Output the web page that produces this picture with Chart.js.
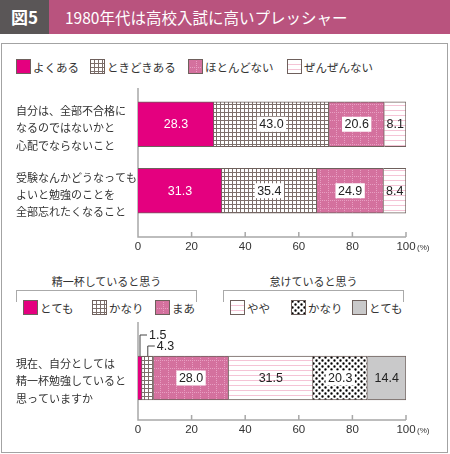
<!DOCTYPE html>
<html lang="ja">
<head>
<meta charset="utf-8">
<script src="https://cdn.jsdelivr.net/npm/chart.js@4.4.1/dist/chart.umd.min.js"></script>
<style>
  body { margin: 0; width: 450px; height: 454px; background: #fff; position: relative; overflow: hidden;
         font-family: "Noto Sans CJK JP", sans-serif; color: #333; }
  .abs { position: absolute; }
  #headNo { left: 0; top: 0; width: 49px; height: 34px; background: #5a5657; color: #fff;
            font: bold 17px "Noto Sans CJK JP"; line-height: 34px; text-align: center; }
  #headTitle { left: 49px; top: 0; width: 401px; height: 34px; background: #b9537e; color: #fff;
               font: 15.5px "Noto Sans CJK JP"; line-height: 34px; padding-left: 16px; box-sizing: border-box; }
  #frame { left: 1px; top: 43px; width: 447px; height: 410px; border: 1.5px solid #a3a3a3; box-sizing: border-box; }
  .item { display: flex; align-items: center; height: 15px; font-size: 11.5px; white-space: nowrap; }
  .item canvas { margin-right: 2px; }
  .group { font-size: 11px; text-align: center; width: 181px; }
  .bracket { border: 1.5px solid #aaa; border-bottom: none; height: 12px; box-sizing: border-box; width: 181px; }
  canvas.chart { position: absolute; left: 0; }
</style>
</head>
<body>
<div class="abs" id="headNo">図5</div>
<div class="abs" id="headTitle">1980年代は高校入試に高いプレッシャー</div>
<div class="abs" id="frame"></div>

<div class="abs group" style="left:16px; top:273px;">精一杯していると思う</div>
<div class="abs group" style="left:223px; top:273px;">怠けていると思う</div>
<div class="abs bracket" style="left:16px; top:290px;"></div>
<div class="abs bracket" style="left:223px; top:290px;"></div>

<div id="legends"></div>

<canvas class="chart" id="topChart" width="450" height="180" style="top:80px"></canvas>
<canvas class="chart" id="bottomChart" width="450" height="125" style="top:320px"></canvas>

<script>
// values (%)
const topCategories = [
  ["自分は、全部不合格に", "なるのではないかと", "心配でならないこと"],
  ["受験なんかどうなっても", "よいと勉強のことを", "全部忘れたくなること"],
];
const topSeriesNames = ["よくある", "ときどきある", "ほとんどない", "ぜんぜんない"];
const yokuAru = [28.3, 31.3];
const tokidokiAru = [43.0, 35.4];
const hotondoNai = [20.6, 24.9];
const zenzenNai = [8.1, 8.4];

const bottomCategories = [["現在、自分としては", "精一杯勉強していると", "思っていますか"]];
const bottomSeriesNames = ["とても", "かなり", "まあ", "やや", "かなり", "とても"];
const seiippaiTotemo = [1.5];
const seiippaiKanari = [4.3];
const seiippaiMaa = [28.0];
const namakeYaya = [31.5];
const namakeKanari = [20.3];
const namakeTotemo = [14.4];

const xTicks = [0, 20, 40, 60, 80, 100];

// styles
const topFills = ["solid", "grid", "pinkgrid", "lines"];
const topLabelStyles = ["light", "box", "box", "plain"];
const bottomFills = ["solid", "grid", "pinkgrid", "lines", "dots", "gray"];
const bottomLabelStyles = ["callout", "callout", "box", "plain", "box", "plain"];
const topLegendX = [16, 90, 188, 287];
const bottomLegendX = [23, 92, 155, 230, 291, 352];
const edge = "#6e605c";
const textColor = "#333";
const numFont = '"Liberation Sans", Arial, sans-serif';

function makePattern(kind) {
  if (kind === "solid") return "#e4007f";
  if (kind === "gray") return "#c9c9ca";
  const c = document.createElement("canvas");
  const g = c.getContext("2d");
  if (kind === "grid") {
    c.width = 4; c.height = 4;
    g.fillStyle = "#fff"; g.fillRect(0, 0, 4, 4);
    g.fillStyle = "#7d6f6b"; g.fillRect(0, 0, 4, 1); g.fillRect(0, 0, 1, 4);
  } else if (kind === "pinkgrid") {
    c.width = 8; c.height = 8;
    g.fillStyle = "#d4719e"; g.fillRect(0, 0, 8, 8);
    g.fillStyle = "#e89fc3";
    for (let i = 0; i < 8; i += 2) { g.fillRect(i, 0, 1, 1); g.fillRect(0, i, 1, 1); }
  } else if (kind === "lines") {
    c.width = 4; c.height = 5;
    g.fillStyle = "#fff"; g.fillRect(0, 0, 4, 5);
    g.fillStyle = "#f5c4d6"; g.fillRect(0, 0, 4, 1);
  } else if (kind === "dots") {
    c.width = 6; c.height = 6;
    g.fillStyle = "#fff"; g.fillRect(0, 0, 6, 6);
    g.fillStyle = "#000";
    g.beginPath(); g.arc(1.5, 1.5, 1.2, 0, Math.PI * 2); g.arc(4.5, 4.5, 1.2, 0, Math.PI * 2); g.fill();
  }
  return g.createPattern(c, "repeat");
}

function addLegend(names, fills, xs, top) {
  const box = document.getElementById("legends");
  names.forEach((name, i) => {
    const item = document.createElement("div");
    item.className = "abs item";
    item.style.left = xs[i] + "px";
    item.style.top = top + "px";
    const sw = document.createElement("canvas");
    sw.width = 15; sw.height = 15;
    const g = sw.getContext("2d");
    g.fillStyle = makePattern(fills[i]); g.fillRect(0, 0, 15, 15);
    g.strokeStyle = edge; g.lineWidth = 1; g.strokeRect(0.5, 0.5, 14, 14);
    const span = document.createElement("span");
    span.textContent = name;
    item.append(sw, span);
    box.append(item);
  });
}

addLegend(topSeriesNames, topFills, topLegendX, 59);
addLegend(bottomSeriesNames, bottomFills, bottomLegendX, 300);

// axis lines a bit below the chart area, ticks pointing up, tick labels below
const axisPlugin = {
  id: "axisLines",
  beforeDatasetsDraw(chart, args, opts) {
    const { ctx, chartArea, scales: { x } } = chart;
    const axisY = chartArea.bottom + opts.gap;
    ctx.save();
    ctx.strokeStyle = "#a8a8a8";
    ctx.lineWidth = 1.5;
    ctx.beginPath();
    ctx.moveTo(chartArea.left, chartArea.top - opts.rise);
    ctx.lineTo(chartArea.left, axisY);
    ctx.lineTo(chartArea.right, axisY);
    xTicks.forEach((v) => {
      const px = x.getPixelForValue(v);
      ctx.moveTo(px, axisY);
      ctx.lineTo(px, axisY - 5);
    });
    ctx.stroke();
    ctx.fillStyle = textColor;
    ctx.textBaseline = "middle";
    ctx.textAlign = "center";
    ctx.font = "11.5px " + numFont;
    xTicks.forEach((v) => ctx.fillText(String(v), x.getPixelForValue(v), axisY + 10));
    ctx.textAlign = "left";
    ctx.font = "8px " + numFont;
    ctx.fillText("(%)", x.getPixelForValue(100) + 11, axisY + 10.5);
    ctx.restore();
  },
};

const valuePlugin = {
  id: "valueLabels",
  afterDatasetsDraw(chart, args, opts) {
    const ctx = chart.ctx;
    ctx.save();
    ctx.font = "12.5px " + numFont;
    ctx.textBaseline = "middle";
    let level = 0;
    chart.data.datasets.forEach((ds, di) => {
      const meta = chart.getDatasetMeta(di);
      meta.data.forEach((bar, i) => {
        const txt = ds.data[i].toFixed(1);
        const style = opts.styles[di];
        const { x, y } = bar.getCenterPoint();
        if (style === "callout") {
          const barTop = y - bar.height / 2;
          const ly = barTop - 21 + level * 11;
          ctx.strokeStyle = "#444";
          ctx.lineWidth = 1;
          ctx.beginPath();
          ctx.moveTo(x, barTop);
          ctx.lineTo(x, ly);
          ctx.lineTo(x + 7, ly);
          ctx.stroke();
          ctx.fillStyle = "#222";
          ctx.textAlign = "left";
          ctx.fillText(txt, x + 9, ly + 0.5);
          level++;
          return;
        }
        ctx.textAlign = "center";
        if (style === "box") {
          const w = ctx.measureText(txt).width + 5;
          ctx.fillStyle = "#fff";
          ctx.fillRect(x - w / 2, y - 7.5, w, 15);
        }
        ctx.fillStyle = style === "light" ? "#fff" : "#222";
        ctx.fillText(txt, x, y + 0.5);
      });
    });
    ctx.restore();
  },
};

function makeDatasets(names, seriesValues, fills, thickness) {
  return names.map((name, i) => ({
    label: name,
    data: seriesValues[i],
    backgroundColor: makePattern(fills[i]),
    borderColor: edge,
    borderWidth: 1,
    barThickness: thickness,
  }));
}

function createChart(id, labels, datasets, cfg) {
  return new Chart(document.getElementById(id), {
    type: "bar",
    data: { labels, datasets },
    options: {
      indexAxis: "y",
      responsive: false,
      animation: false,
      layout: { padding: { left: 16, right: 44, top: cfg.padTop, bottom: cfg.padBottom } },
      plugins: {
        legend: { display: false },
        tooltip: { enabled: false },
        axisLines: { gap: cfg.gap, rise: cfg.rise },
        valueLabels: { styles: cfg.labelStyles },
      },
      scales: {
        x: {
          stacked: true,
          min: 0,
          max: 100,
          afterBuildTicks: (s) => { s.ticks = xTicks.map((v) => ({ value: v })); },
          afterFit: (s) => { s.height = cfg.xHeight; },
          ticks: { display: false },
          grid: { display: false, drawTicks: false },
          border: { display: false },
        },
        y: {
          stacked: true,
          afterFit: (s) => { s.width = 122; s.paddingTop = 0; s.paddingBottom = 0; },
          ticks: { crossAlign: "far", color: textColor, labelOffset: cfg.labelShift,
                   font: { family: '"Noto Sans CJK JP"', size: 11, lineHeight: 1.58 } },
          grid: { display: false, drawTicks: false },
          border: { display: false },
        },
      },
    },
    plugins: [axisPlugin, valuePlugin],
  });
}

createChart("topChart", topCategories,
  makeDatasets(topSeriesNames, [yokuAru, tokidokiAru, hotondoNai, zenzenNai], topFills, 45),
  { padTop: 11, padBottom: 6, xHeight: 30, gap: 13, rise: 3, labelShift: 4, labelStyles: topLabelStyles });

createChart("bottomChart", bottomCategories,
  makeDatasets(bottomSeriesNames,
    [seiippaiTotemo, seiippaiKanari, seiippaiMaa, namakeYaya, namakeKanari, namakeTotemo], bottomFills, 44),
  { padTop: 16, padBottom: 0, xHeight: 25, gap: 0, rise: 14, labelShift: 3, labelStyles: bottomLabelStyles });
</script>
</body>
</html>
